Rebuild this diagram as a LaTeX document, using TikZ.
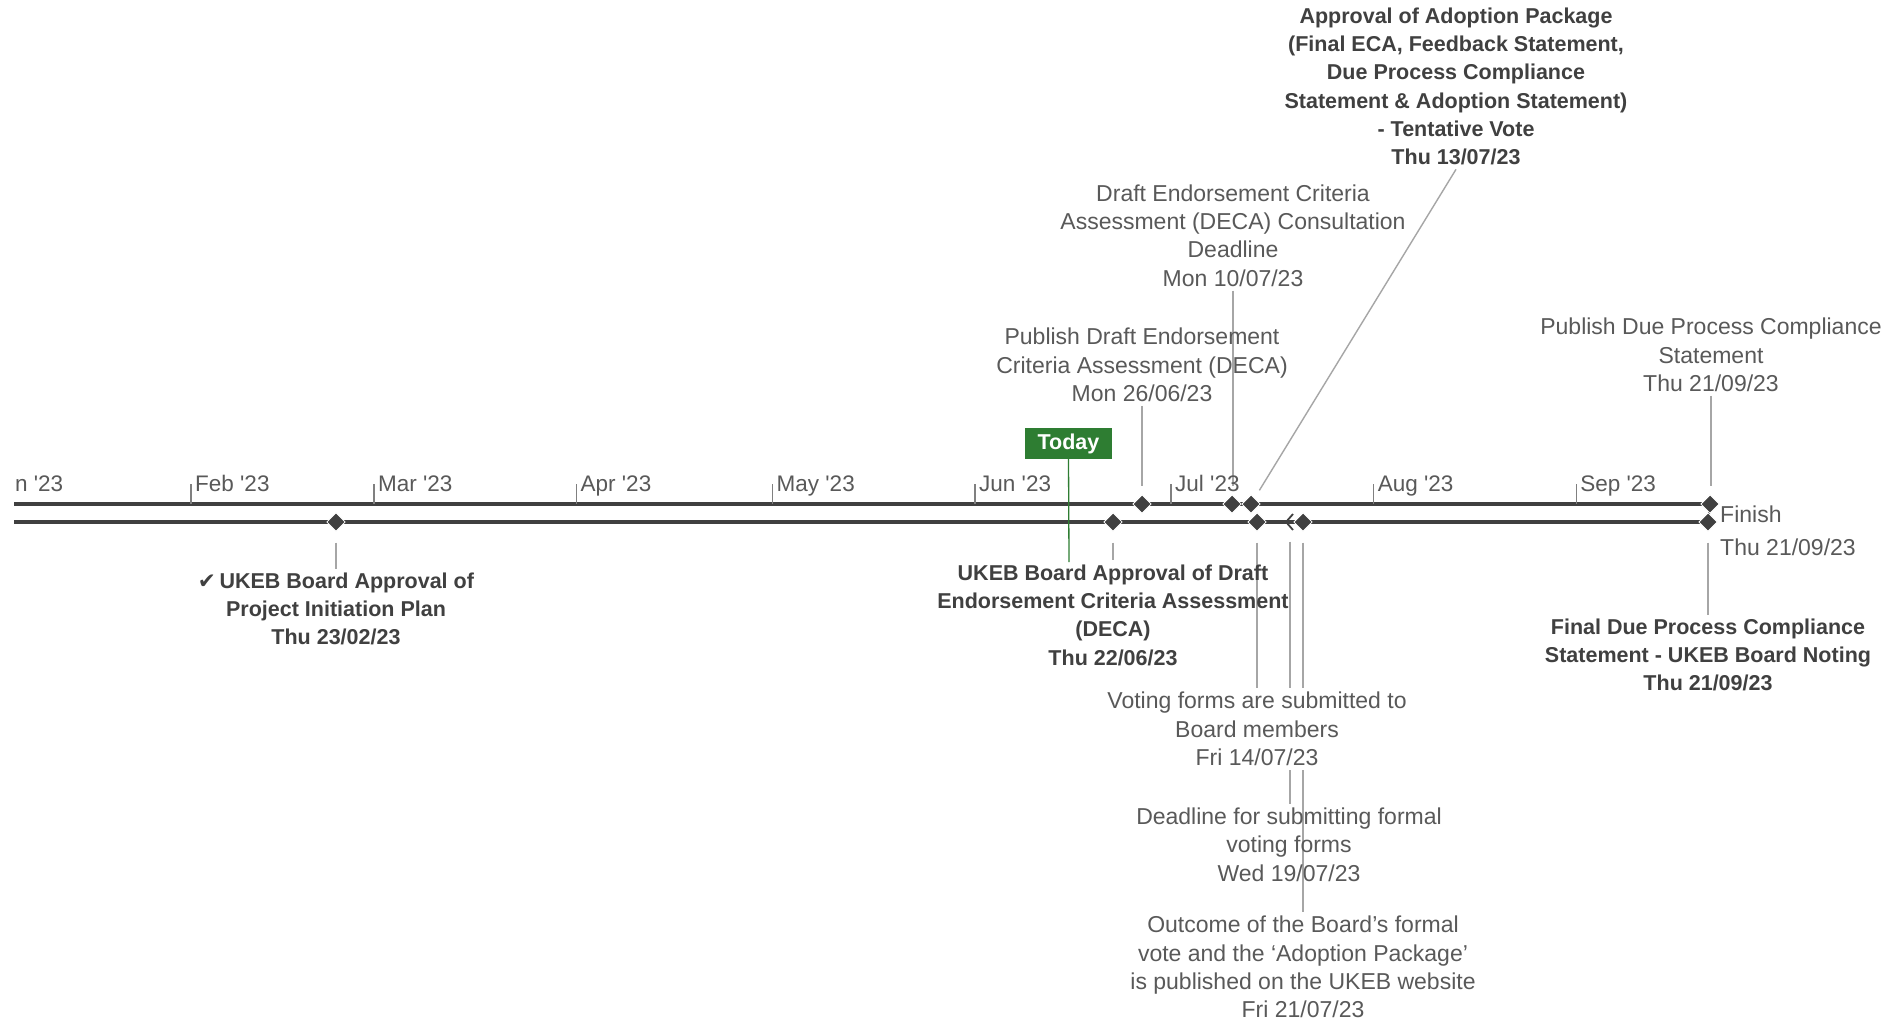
\documentclass[tikz,border=0pt]{standalone}
\usepackage{fontspec}
\setmainfont{Liberation Sans}
\newfontfamily\symfont{DejaVu Sans}
\usetikzlibrary{shapes.geometric}
\definecolor{txt}{RGB}{89,89,89}
\definecolor{btxt}{RGB}{64,64,64}
\definecolor{tl}{RGB}{64,64,64}
\definecolor{connc}{RGB}{166,166,166}
\definecolor{tickc}{RGB}{128,128,128}
\definecolor{todaygreen}{RGB}{46,125,50}
\pgfdeclarelayer{paper}
\pgfdeclarelayer{bg}
\pgfdeclarelayer{mid}
\pgfsetlayers{paper,bg,mid,main}
\newcommand\ap{\textquotesingle}
\begin{document}
\begin{tikzpicture}[x=1pt,y=-1pt,
  lbl/.style={align=center, text=txt, font=\fontsize{23}{28.3}\selectfont, inner xsep=0pt, inner ysep=4pt},
  blbl/.style={align=center, text=btxt, font=\fontsize{21.5}{28.3}\selectfont\bfseries, inner xsep=0pt, inner ysep=4pt},
  month/.style={anchor=base west, text=txt, font=\fontsize{22.5}{27}\selectfont, inner sep=0pt},
  ms/.style={diamond, fill=tl, draw=white, line width=0.8pt, minimum size=18.5pt, inner sep=0pt},
  tline/.style={draw=tl, line width=3.2pt},
  tickl/.style={draw=tickc, line width=1.3pt},
  connl/.style={draw=connc, line width=1.4pt},
]
\begin{pgfonlayer}{paper}
  \fill[white] (0,0) rectangle (1895,1020);
\end{pgfonlayer}
\useasboundingbox (0,0) rectangle (1895,1020);

% timeline start points
\coordinate (L1) at (14,504);
\coordinate (L2) at (14,522);

% month ticks and labels
\foreach \x/\m in {191/Feb,374/Mar,576.5/Apr,772.5/May,975/Jun,1171/Jul,1373.7/Aug,1576.2/Sep}{
  \draw[tickl] (\x,484) -- (\x,504);
  \node[month] (month-\m) at (\x+4,491) {\m\ \ap23};
}
\node[month] (month-Jan) at (15,491) {n \ap23};

% milestones
\node[ms] (m0223) at (336,522) {};
\node[ms] (m0622) at (1113,522) {};
\node[ms] (m0626) at (1142,504) {};
\node[ms] (m0710) at (1232,504) {};
\node[ms] (m0713) at (1251,504) {};
\node[ms] (m0714) at (1257,522) {};
\coordinate (m0719) at (1290,522);
\draw[tl, line width=1.8pt, line join=miter] (1293,514) -- (1286,522) -- (1293,530);
\node[ms] (m0721) at (1303,522) {};
\node[ms] (mfin1) at (1710,504) {};
\node[ms] (mfin2) at (1708,522) {};

\begin{pgfonlayer}{mid}
  \draw[tline] (L1) -- (mfin1.center);
  \draw[tline] (L2) -- (mfin2.center);
  \draw[tl, line width=2pt] (mfin1.center) -- (mfin2.center);
\end{pgfonlayer}

% Today marker
\node[fill=todaygreen, text=white, font=\fontsize{21.5}{25}\selectfont\bfseries,
      minimum width=87pt, minimum height=31pt, inner sep=0pt] (today) at (1068.5,443.5) {Today};
\coordinate (todayend) at (1069,562);
\draw[todaygreen, line width=1.3pt] (today.south) -- (todayend);

% labels above
\node[blbl] (A) at (1456,86.4) {Approval of Adoption Package\\(Final ECA, Feedback Statement,\\Due Process Compliance\\Statement \& Adoption Statement)\\- Tentative Vote\\Thu 13/07/23};
\node[lbl] (B) at (1233,235.5) {Draft Endorsement Criteria\\Assessment (DECA) Consultation\\Deadline\\Mon 10/07/23};
\node[lbl] (C) at (1142,365) {Publish Draft Endorsement\\Criteria Assessment (DECA)\\Mon 26/06/23};
\node[lbl] (D) at (1711,355) {Publish Due Process Compliance\\Statement\\Thu 21/09/23};

% labels below
\node[blbl] (E) at (1113,615) {UKEB Board Approval of Draft\\Endorsement Criteria Assessment\\(DECA)\\Thu 22/06/23};
\node[blbl] (F) at (336,609) {{\symfont\bfseries ✔}\,UKEB Board Approval of\\Project Initiation Plan\\Thu 23/02/23};
\node[lbl, fill=white] (G) at (1257,729) {Voting forms are submitted to\\Board members\\Fri 14/07/23};
\node[lbl] (H) at (1289,844.5) {Deadline for submitting formal\\voting forms\\Wed 19/07/23};
\node[lbl] (I) at (1303,967) {Outcome of the Board’s formal\\vote and the ‘Adoption Package’\\is published on the UKEB website\\Fri 21/07/23};
\node[blbl] (J) at (1708,655) {Final Due Process Compliance\\Statement - UKEB Board Noting\\Thu 21/09/23};
\node[lbl, anchor=base west] (fin1) at (1720,522) {Finish};
\node[lbl, anchor=base west] (fin2) at (1720,555) {Thu 21/09/23};

% connectors
\begin{pgfonlayer}{bg}
  \draw[connl, shorten >=9pt] (A.south) -- (m0713);
  \draw[connl, shorten >=8pt] (B) -- (B |- m0710.north);
  \draw[connl, shorten >=8pt] (C) -- (C |- m0626.north);
  \draw[connl, shorten >=8pt] (D) -- (D |- mfin1.north);
  \draw[connl, shorten <=11pt] (m0622.south) -- (E);
  \draw[connl, shorten <=11pt] (m0223.south) -- (F);
  \draw[connl, shorten <=11pt] (m0714.south) -- (G);
  \draw[connl] ([yshift=-19.5pt]m0719) -- (m0719 |- H.north);
  \draw[connl, shorten <=11pt] (m0721.south) -- (I);
  \draw[connl, shorten <=11pt] (mfin2.south) -- (J);
\end{pgfonlayer}
\end{tikzpicture}
\end{document}
